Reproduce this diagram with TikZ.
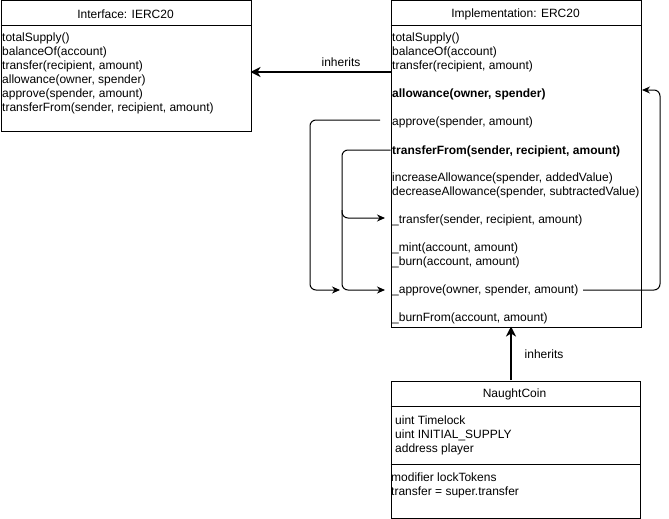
\documentclass[tikz,border=0pt]{standalone}
\usepackage{fontspec}
\setmainfont{Liberation Sans}
\usetikzlibrary{arrows.meta}
\begin{document}
\begin{tikzpicture}[x=1pt,y=-1pt,
  box/.style={draw, line width=1pt, anchor=north west, inner sep=0},
  title/.style={inner sep=0, font=\fontsize{12}{14}\selectfont},
  txt/.style={anchor=west, inner sep=0, text height=10.4pt, text depth=0pt, font=\fontsize{12}{14}\selectfont},
  btxt/.style={txt, font=\fontsize{12}{14}\selectfont\bfseries},
  conn/.style={line width=1pt, rounded corners=6pt, -{Stealth[length=8pt,width=7pt]}},
  inh/.style={line width=2pt, -{Stealth[length=10pt,width=10pt,inset=3pt]}},
  lbl/.style={inner sep=0, font=\fontsize{12}{14}\selectfont}]
\useasboundingbox (0,0) rectangle (669,519);

% Interface box
\node[box, minimum width=250pt, minimum height=130pt] (ifc) at (0.5,0.5) {};
\draw[line width=1pt] (0.5,26) -- (250.5,26);
\node[title] (ifct) at (125.5,14) {Interface: IERC20};
\node[txt] (i1) at (2,36) {totalSupply()};
\node[txt] (i2) at (2,50) {balanceOf(account)};
\node[txt] (i3) at (2,64) {transfer(recipient, amount)};
\node[txt] (i4) at (2,78) {allowance(owner, spender)};
\node[txt] (i5) at (2,92) {approve(spender, amount)};
\node[txt] (i6) at (2,106) {transferFrom(sender, recipient, amount)};

% Implementation box
\node[box, minimum width=250pt, minimum height=326pt] (imp) at (390.5,0.5) {};
\draw[line width=1pt] (390.5,26) -- (640.5,26);
\node[title] (impt) at (515.5,14) {Implementation: ERC20};
\node[txt] (m1) at (392,36) {totalSupply()};
\node[txt] (m2) at (392,50) {balanceOf(account)};
\node[txt] (m3) at (392,64) {transfer(recipient, amount)};
\node[btxt] (m4) at (392,92) {allowance(owner, spender)};
\node[txt] (m5) at (392,120) {approve(spender, amount)};
\node[btxt] (m6) at (392,149) {transferFrom(sender, recipient, amount)};
\node[txt] (m7) at (392,176) {increaseAllowance(spender, addedValue)};
\node[txt] (m8) at (392,190) {decreaseAllowance(spender, subtractedValue)};
\node[txt] (m9) at (392,218) {\_transfer(sender, recipient, amount)};
\node[txt] (m10) at (392,246) {\_mint(account, amount)};
\node[txt] (m11) at (392,260) {\_burn(account, amount)};
\node[txt] (m12) at (392,288) {\_approve(owner, spender, amount)};
\node[txt] (m13) at (392,316) {\_burnFrom(account, amount)};

% NaughtCoin box
\node[box, minimum width=249pt, minimum height=137pt] (nc) at (390.5,380.5) {};
\draw[line width=1pt] (390.5,406) -- (639.5,406);
\draw[line width=1pt] (390.5,464) -- (639.5,464);
\node[title] (nct) at (514.5,394) {NaughtCoin};
\node[txt] (n1) at (395,419) {uint Timelock};
\node[txt] (n2) at (395,433) {uint INITIAL\_SUPPLY};
\node[txt] (n3) at (395,447) {address player};
\node[txt] (n4) at (391,476) {modifier lockTokens};
\node[txt] (n5) at (391,490) {transfer = super.transfer};

% inheritance arrows
\coordinate (inhA) at (390.5,72);
\coordinate (inhB) at (250.5,72);
\draw[inh] (inhA) -- (inhB);
\node[lbl] (inhL1) at (341,62) {inherits};
\coordinate (ncTop) at (511,380);
\coordinate (impBot) at (511,326.5);
\draw[inh] (ncTop) -- (impBot);
\node[lbl] (inhL2) at (544,354) {inherits};

% internal connectors
\coordinate (apS) at (380,120);
\coordinate (apE) at (340,290);
\draw[conn] (apS) -- (310,120) -- (310,290) -- (apE);
\coordinate (tfS) at (390.5,150);
\coordinate (trE) at (385,218);
\coordinate (aprE) at (385,290);
\draw[conn] (tfS) -- (342,150) -- (342,218) -- (trE);
\draw[conn] (342,210) -- (342,290) -- (aprE);
\coordinate (apprS) at (583,290);
\coordinate (alE) at (642,90);
\draw[conn] (apprS) -- (660,290) -- (660,90) -- (alE);
\end{tikzpicture}
\end{document}
